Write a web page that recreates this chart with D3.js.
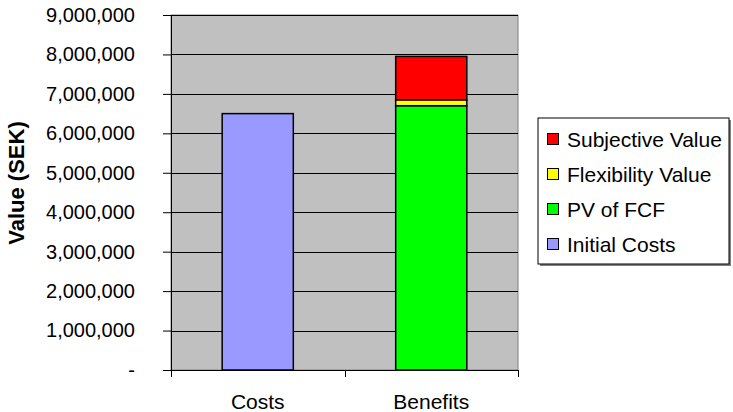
<!DOCTYPE html>
<html lang="en">
<head>
    <meta charset="utf-8">
    <title>Costs vs Benefits</title>
    <style>
        body { margin: 0; background: #fff; }
        text { font-family: "Liberation Sans", Arial, sans-serif; fill: #000; }
    </style>
</head>
<body>
    <svg id="chart" width="733" height="412"></svg>
</body>
<script src="https://d3js.org/d3.v7.min.js"></script>
<script>
    const categories = ["Costs", "Benefits"]
    const seriesNames = ["Initial Costs", "PV of FCF", "Flexibility Value", "Subjective Value"]
    const initialCosts = [6500000, 0]
    const pvOfFcf = [0, 6700000]
    const flexibilityValue = [0, 150000]
    const subjectiveValue = [0, 1100000]
    const yTicks = [0, 1000000, 2000000, 3000000, 4000000, 5000000, 6000000, 7000000, 8000000, 9000000]
    const colors = ["#9999ff", "#00ff00", "#ffff00", "#ff0000"]

    let svg = d3.select("#chart")
    let margin = { left: 171, right: 215, top: 15, bottom: 42 }
    let width = 733 - margin.left - margin.right
    let height = 412 - margin.top - margin.bottom

    let rows = categories.map((c, i) => ({
        cat: c,
        "Initial Costs": initialCosts[i],
        "PV of FCF": pvOfFcf[i],
        "Flexibility Value": flexibilityValue[i],
        "Subjective Value": subjectiveValue[i]
    }))
    let stacked = d3.stack().keys(seriesNames)(rows)

    let x = d3.scaleBand()
        .domain(categories)
        .range([0, width])
        .paddingInner(0.59)
        .paddingOuter(0.295)
    let y = d3.scaleLinear()
        .domain([0, 9000000])
        .range([height, 0])

    let g = svg.append("g").attr("transform", `translate(${margin.left}, ${margin.top})`)

    // plot background
    g.append("rect")
        .attr("width", width).attr("height", height)
        .attr("fill", "#c0c0c0")
        .attr("stroke", "#808080")

    // gridlines
    g.selectAll(".grid")
        .data(yTicks.slice(1))
        .enter().append("line")
        .attr("x1", 0).attr("x2", width)
        .attr("y1", d => Math.round(y(d)) + 0.5)
        .attr("y2", d => Math.round(y(d)) + 0.5)
        .attr("stroke", "#000")

    // bars
    g.selectAll(".series")
        .data(stacked)
        .enter().append("g")
        .attr("fill", (d, i) => colors[i])
        .selectAll("rect")
        .data(d => d.filter(p => p[1] > p[0]))
        .enter().append("rect")
        .attr("x", d => x(d.data.cat))
        .attr("width", x.bandwidth())
        .attr("y", d => y(d[1]))
        .attr("height", d => y(d[0]) - y(d[1]))
        .attr("stroke", "#000")
        .attr("stroke-width", 1.5)

    // y axis
    let yAxis = d3.axisLeft(y)
        .tickValues(yTicks)
        .tickSize(8)
        .tickPadding(28)
        .tickFormat(d => d === 0 ? "-" : d3.format(",")(d))
    let ya = g.append("g").call(yAxis)
    ya.select(".domain").remove()
    ya.append("line").attr("x1", 0.5).attr("x2", 0.5).attr("y1", 0).attr("y2", height + 7).attr("stroke", "#000")
    ya.selectAll("text").style("font-size", "20px").attr("font-family", "Liberation Sans, Arial, sans-serif").attr("fill", "#000")

    // x axis
    let xa = g.append("g").attr("transform", `translate(0, ${height})`)
    xa.append("line").attr("x1", 0).attr("x2", width).attr("y1", 0.5).attr("y2", 0.5).attr("stroke", "#000")
    xa.selectAll(".tick")
        .data([0, width / 2, width])
        .enter().append("line")
        .attr("x1", d => Math.round(d) + 0.5).attr("x2", d => Math.round(d) + 0.5)
        .attr("y1", 0).attr("y2", 7)
        .attr("stroke", "#000")
    xa.selectAll(".cat")
        .data(categories)
        .enter().append("text")
        .attr("x", d => x(d) + x.bandwidth() / 2)
        .attr("y", 39)
        .attr("text-anchor", "middle")
        .style("font-size", "21px")
        .text(d => d)

    // y title
    svg.append("text")
        .attr("transform", `translate(24, 183) rotate(-90)`)
        .attr("text-anchor", "middle")
        .style("font-size", "22px")
        .style("font-weight", "bold")
        .text("Value (SEK)")

    // legend
    let lg = svg.append("g").attr("transform", "translate(538, 118)")
    lg.append("rect").attr("x", 2).attr("y", 2).attr("width", 191).attr("height", 146).attr("fill", "#808080")
    lg.append("rect").attr("width", 191).attr("height", 146).attr("fill", "#fff").attr("stroke", "#000")
    let items = lg.selectAll(".item")
        .data(seriesNames.slice().reverse())
        .enter().append("g")
        .attr("transform", (d, i) => `translate(0, ${21 + i * 35})`)
    items.append("rect")
        .attr("x", 9.5).attr("y", -5.5)
        .attr("width", 11).attr("height", 11)
        .attr("fill", d => colors[seriesNames.indexOf(d)])
        .attr("stroke", "#000")
    items.append("text")
        .attr("x", 29).attr("y", 7.5)
        .style("font-size", "21px")
        .text(d => d)
</script>
</html>
